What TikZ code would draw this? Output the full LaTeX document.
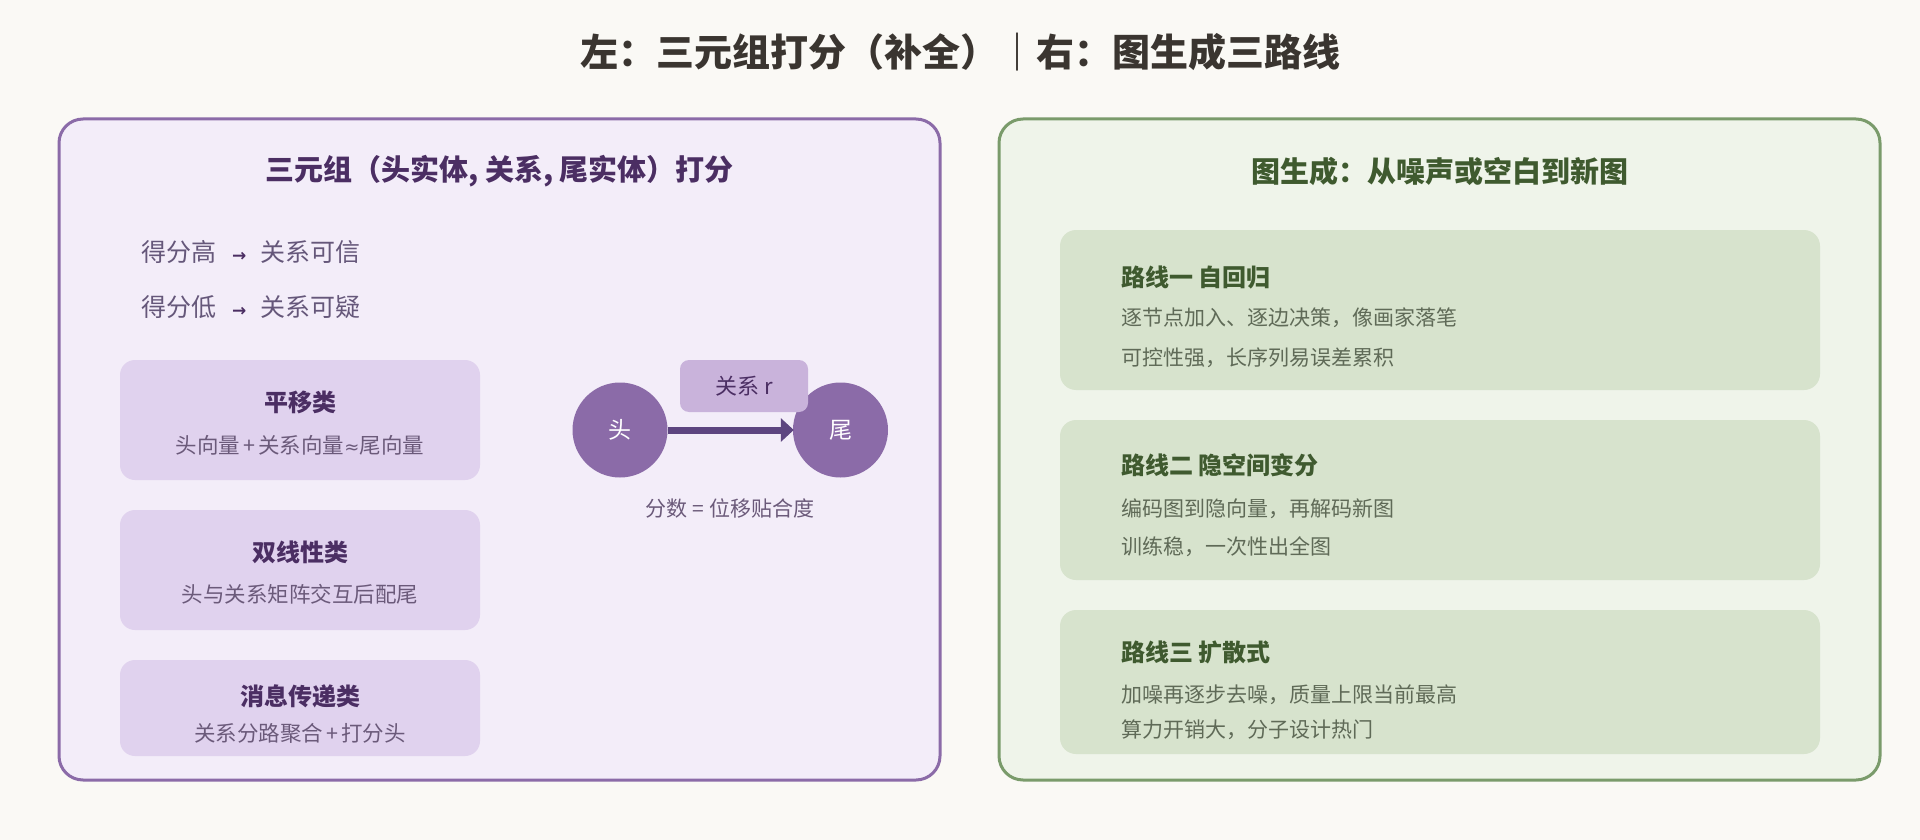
\documentclass[tikz,border=0pt]{standalone}
\usepackage{fontspec}
\setmainfont{Noto Sans CJK SC}
\newfontfamily\symf{DejaVu Sans}
\usetikzlibrary{arrows.meta}
\definecolor{bgc}{HTML}{FAF9F5}
\definecolor{titlec}{HTML}{3A3530}
\definecolor{lfill}{HTML}{F3EDF9}
\definecolor{lborder}{HTML}{8B6BA8}
\definecolor{ltitlec}{HTML}{4B2E63}
\definecolor{lbox}{HTML}{E0D2EE}
\definecolor{lsub}{HTML}{6B5A7A}
\definecolor{lscore}{HTML}{65577A}
\definecolor{circc}{HTML}{8B6BA8}
\definecolor{arrowc}{HTML}{5D4580}
\definecolor{relc}{HTML}{C9B3DB}
\definecolor{rfill}{HTML}{EFF4EA}
\definecolor{rborder}{HTML}{7A9B6B}
\definecolor{gbox}{HTML}{D7E3CD}
\definecolor{gtitle}{HTML}{3F5A2F}
\definecolor{gtext}{HTML}{5F6A57}
\newcommand{\fsz}[1]{\fontsize{#1pt}{#1pt}\selectfont}
\newcommand{\scorearrow}{\hspace{16pt}{\symf\fsz{17}\bfseries\color{ltitlec}→}\hspace{14pt}}
\tikzset{
  maintitle/.style={text=titlec, font=\fsz{38}\bfseries, inner sep=0pt},
  panel/.style={line width=3pt, rounded corners=24pt, minimum width=881pt, minimum height=661pt, inner sep=0pt},
  panelL/.style={panel, draw=lborder, fill=lfill},
  panelR/.style={panel, draw=rborder, fill=rfill},
  ltitle/.style={text=ltitlec, font=\fsz{29}\bfseries, inner sep=0pt},
  rtitle/.style={text=gtitle, font=\fsz{29}\bfseries, inner sep=0pt},
  scoreline/.style={text=lscore, font=\fsz{25}, inner sep=0pt, anchor=west},
  pbox/.style={fill=lbox, rounded corners=15pt, minimum width=360pt, inner sep=0pt},
  pboxtitle/.style={text=ltitlec, font=\fsz{24}\bfseries, inner sep=0pt},
  pboxsub/.style={text=lsub, font=\fsz{21.5}, inner sep=0pt},
  ent/.style={circle, fill=circc, minimum size=95pt, inner sep=0pt, text=white, font=\fsz{23}},
  relarrow/.style={draw=arrowc, line width=7pt, -{Triangle[length=13pt,width=23pt]}, shorten >=-1pt},
  relbox/.style={fill=relc, rounded corners=9pt, minimum width=128pt, minimum height=52pt, inner sep=0pt, text=ltitlec, font=\fsz{22}},
  scorelabel/.style={text=lsub, font=\fsz{21}, inner sep=0pt},
  gboxs/.style={fill=gbox, rounded corners=16pt, minimum width=760pt, inner sep=0pt},
  gboxtitle/.style={text=gtitle, font=\fsz{24}\bfseries, inner sep=0pt, anchor=west},
  gboxtext/.style={text=gtext, font=\fsz{21}, inner sep=0pt, anchor=west}
}
\begin{document}
\begin{tikzpicture}[x=1pt,y=-1pt]
\fill[bgc] (0,0) rectangle (1920,840);
\useasboundingbox (0,0) rectangle (1920,840);
\node[maintitle] (title) at (960,52) {左：三元组打分（补全）｜右：图生成三路线};

% left panel
\node[panelL] (lp) at (499.5,449.5) {};
\node[ltitle] (lt) at (499.5,171) {三元组（头实体, 关系, 尾实体）打分};
\node[scoreline] (s1) at (141,252) {得分高\scorearrow 关系可信};
\node[scoreline] (s2) at (141,307) {得分低\scorearrow 关系可疑};

\node[pbox, minimum height=120pt] (b1) at (300,420) {};
\node[pboxtitle] (b1t) at (300,402) {平移类};
\node[pboxsub] (b1s) at (300,445) {头向量\hspace{3pt}+\hspace{3pt}关系向量{\symf\fsz{18}≈}尾向量};

\node[pbox, minimum height=120pt] (b2) at (300,570) {};
\node[pboxtitle] (b2t) at (300,552) {双线性类};
\node[pboxsub] (b2s) at (300,594) {头与关系矩阵交互后配尾};

\node[pbox, minimum height=96pt] (b3) at (300,708) {};
\node[pboxtitle] (b3t) at (300,696) {消息传递类};
\node[pboxsub] (b3s) at (300,733) {关系分路聚合\hspace{3pt}+\hspace{3pt}打分头};

\node[ent] (head) at (620,430) {头};
\node[ent] (tail) at (840.5,430) {尾};
\draw[relarrow] (head) -- (tail);
\node[relbox] (rel) at (744,386) {\raisebox{-3pt}{关系 r}};
\node[scorelabel] (score) at (730,508) {分数 = 位移贴合度};

% right panel
\node[panelR] (rp) at (1439.5,449.5) {};
\node[rtitle] (rt) at (1440,171) {图生成：从噪声或空白到新图};

\node[gboxs, minimum height=160pt] (g1) at (1440,310) {};
\node[gboxtitle] (g1t) at (1121,277) {路线一 自回归};
\node[gboxtext] (g1a) at (1121,318) {逐节点加入、逐边决策，像画家落笔};
\node[gboxtext] (g1b) at (1121,358) {可控性强，长序列易误差累积};

\node[gboxs, minimum height=160pt] (g2) at (1440,500) {};
\node[gboxtitle] (g2t) at (1121,465) {路线二 隐空间变分};
\node[gboxtext] (g2a) at (1121,509) {编码图到隐向量，再解码新图};
\node[gboxtext] (g2b) at (1121,547) {训练稳，一次性出全图};

\node[gboxs, minimum height=144pt] (g3) at (1440,682) {};
\node[gboxtitle] (g3t) at (1121,652) {路线三 扩散式};
\node[gboxtext] (g3a) at (1121,695) {加噪再逐步去噪，质量上限当前最高};
\node[gboxtext] (g3b) at (1121,730) {算力开销大，分子设计热门};
\end{tikzpicture}
\end{document}
